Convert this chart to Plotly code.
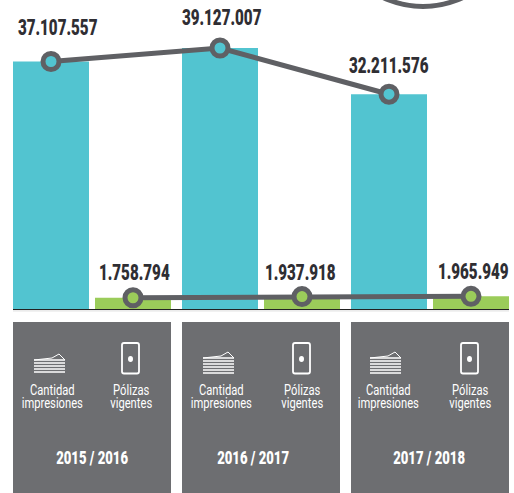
import plotly.graph_objects as go

years = ["2015 / 2016", "2016 / 2017", "2017 / 2018"]
impresiones = [37107557, 39127007, 32211576]
polizas = [1758794, 1937918, 1965949]
impresiones_labels = ["37.107.557", "39.127.007", "32.211.576"]
polizas_labels = ["1.758.794", "1.937.918", "1.965.949"]
name_a = "Cantidad<br>impresiones"
name_b = "Pólizas<br>vigentes"

W, H = 514, 493
BASE = 309.5
SCALE = 261.5 / 39127007
TEAL, GREEN, GRAY, INK = "#52C4D0", "#9BCC5A", "#6D6E71", "#2F2E33"
LINE = "#5F6064"
FONT = "Roboto"

x_a = [51, 220, 389]
x_b = [133, 302, 471]
panel_x = [13, 182, 351]
panel_w = 158
cx_a = [52, 221, 388]
cx_b = [131, 302, 470]
cx_y = [92, 253, 429]
lab_a = [(57, 27), (221, 17), (389, 65)]
lab_b = [(134, 272), (300, 272), (473, 271)]


def py(p):
    """pixel row to y-axis value"""
    return (BASE - p) / SCALE


fig = go.Figure()
fig.add_bar(x=x_a, y=impresiones, width=76, marker=dict(color=TEAL, line_width=0), hoverinfo="skip")
fig.add_bar(x=x_b, y=polizas, width=76, marker=dict(color=GREEN, line_width=0), hoverinfo="skip")
for xs, ys, c in [(x_a, impresiones, TEAL), (x_b, polizas, GREEN)]:
    fig.add_scatter(x=xs, y=ys, mode="lines+markers",
                    line=dict(color=LINE, width=5),
                    marker=dict(size=16, color=c, line=dict(color=LINE, width=5)),
                    hoverinfo="skip")

shapes = []


def sh(**k):
    k.setdefault("xref", "x")
    k.setdefault("yref", "y")
    shapes.append(k)


def rect(x0, p0, x1, p1, color, layer="below"):
    sh(type="rect", x0=x0, x1=x1, y0=py(p0), y1=py(p1), fillcolor=color, line_width=0, layer=layer)


def seg(x0, p0, x1, p1, color="white", w=1.2):
    sh(type="line", x0=x0, x1=x1, y0=py(p0), y1=py(p1), line=dict(color=color, width=w), layer="above")


# baseline
rect(13, 310.3, 509, 311.5, "#E4E4E4", "above")
seg(13, 309.5, 509, 309.5, "#222222", 1.1)
# partial ring, top right
sh(type="circle", x0=330, x1=516, y0=py(6.5), y1=py(-179.5), line=dict(color=LINE, width=5), layer="above")

for i, px in enumerate(panel_x):
    rect(px, 322, px + panel_w, 493, GRAY)
    sx = cx_a[i] - 18
    top = 360 if i == 0 else 358
    # stack of sheets
    for p in range(top, 375, 3):
        seg(sx, p, sx + 31, p, "white", 1.5)
    seg(sx, top, sx + 18, top - 2, "white", 1)
    seg(sx + 18, top - 2, sx + 25, top - 6, "white", 1)
    seg(sx + 25, top - 6, sx + 31, top, "white", 1)
    # phone, rounded corners
    l, r, t, b = cx_b[i] - 9, cx_b[i] + 8, py(343), py(373.5)
    d = 2 / SCALE
    path = (f"M{l+2},{t} L{r-2},{t} Q{r},{t} {r},{t-d} L{r},{b+d} Q{r},{b} {r-2},{b} "
            f"L{l+2},{b} Q{l},{b} {l},{b+d} L{l},{t-d} Q{l},{t} {l+2},{t} Z")
    sh(type="path", path=path, line=dict(color="white", width=1.8), layer="above")
    sh(type="circle", x0=l + 6, x1=l + 11, y0=py(356), y1=py(362),
       fillcolor="white", line_width=0, layer="above")

fig.update_layout(shapes=shapes)


def note(x, p, text, size, color, weight=400):
    fig.add_annotation(x=x, y=py(p), text=text,
                       showarrow=False, xanchor="center", yanchor="middle",
                       font=dict(family=FONT, size=size, color=color, weight=weight))


for i in range(3):
    note(lab_a[i][0], lab_a[i][1], impresiones_labels[i], 22, INK, 900)
    note(lab_b[i][0], lab_b[i][1], polizas_labels[i], 22, INK, 900)
    note(cx_a[i], 396.5, name_a, 14, "white")
    note(cx_b[i], 396.5, name_b, 14, "white")
    note(cx_y[i], 457, years[i], 19, "white", 900)

fig.update_layout(
    width=W, height=H, autosize=False, showlegend=False, barmode="overlay",
    margin=dict(l=0, r=0, t=0, b=0),
    paper_bgcolor="white", plot_bgcolor="white",
    xaxis=dict(range=[0, W], visible=False, fixedrange=True),
    yaxis=dict(range=[py(H), py(0)], visible=False, fixedrange=True),
)
# page margin off; condense the text horizontally, since no condensed face is installed;
# tighten the two-line labels to the reference's leading
post = """
document.body.style.margin='0';
document.querySelectorAll('.annotation-text').forEach(function(t){
  var b=t.getBBox(), c=b.x+b.width/2, s=0, k=0.69;
  var ls=t.querySelectorAll('tspan.line');
  if(ls.length>1){ ls[1].setAttribute('dy','13px'); s=2.4; k=0.8; }
  t.setAttribute('transform','translate('+c+' '+s+') scale('+k+' 1) translate('+(-c)+' 0)');
});
"""
fig.write_html("out.html", config={"displayModeBar": False}, post_script=post)
